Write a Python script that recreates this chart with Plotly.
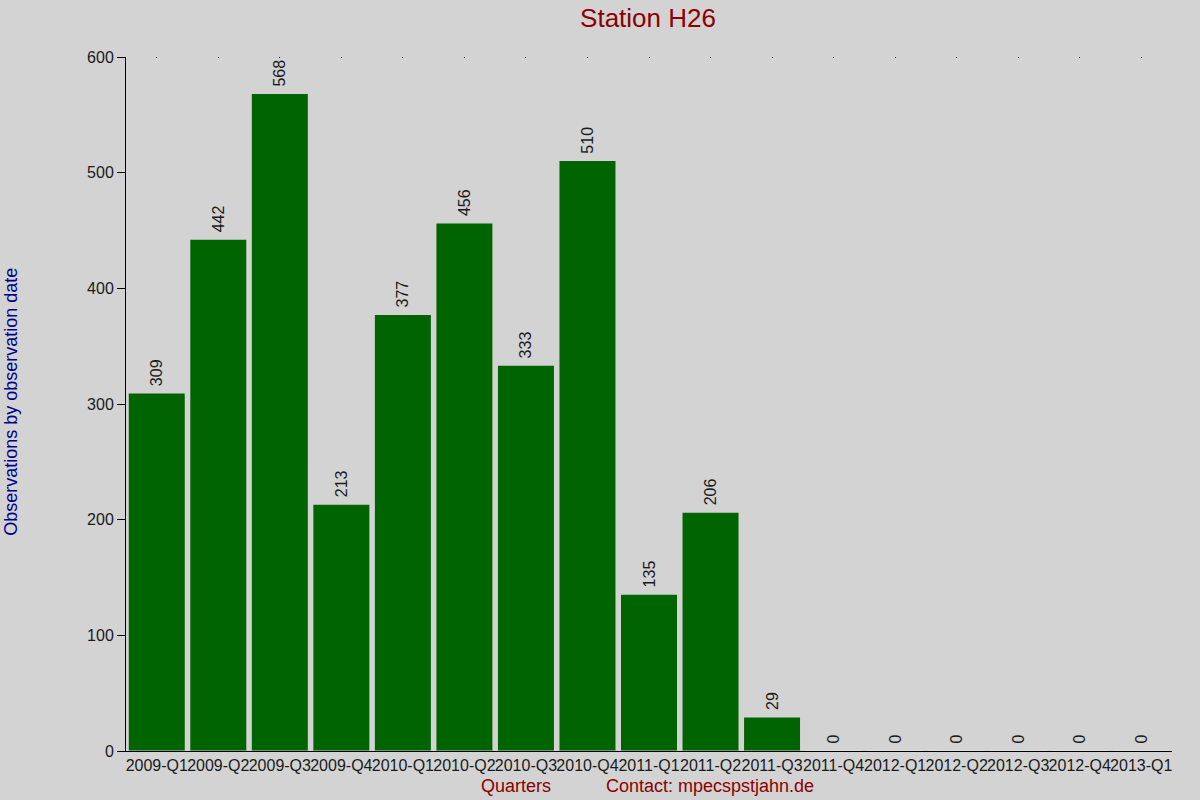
import plotly.graph_objects as go

quarters = [
    "2009-Q1", "2009-Q2", "2009-Q3", "2009-Q4",
    "2010-Q1", "2010-Q2", "2010-Q3", "2010-Q4",
    "2011-Q1", "2011-Q2", "2011-Q3", "2011-Q4",
    "2012-Q1", "2012-Q2", "2012-Q3", "2012-Q4",
    "2013-Q1",
]
observations = [309, 442, 568, 213, 377, 456, 333, 510, 135, 206, 29, 0, 0, 0, 0, 0, 0]
y_ticks = [0, 100, 200, 300, 400, 500, 600]

FONT = "Liberation Sans, Arial, sans-serif"

fig = go.Figure()
fig.add_trace(go.Bar(
    x=quarters,
    y=observations,
    marker=dict(color="#006400", line=dict(width=0)),
    # leading no-break space gives a bit more room between bar top and label
    text=["\u00a0" + str(v) for v in observations],
    textposition="outside",
    textangle=-90,
    constraintext="none",
    cliponaxis=False,
    textfont=dict(family=FONT, size=16, color="#1a1a1a"),
))
# invisible trace on top axis, only for the dotted tick marks along the top
fig.add_trace(go.Bar(x=quarters, y=[0] * len(quarters), xaxis="x2", showlegend=False,
                     marker=dict(color="rgba(0,0,0,0)"), hoverinfo="skip"))

fig.update_layout(
    width=1200, height=800,
    paper_bgcolor="#d3d3d3", plot_bgcolor="#d3d3d3",
    margin=dict(l=126, r=28, t=57, b=49),
    bargap=0.09,
    showlegend=False,
    font=dict(family=FONT, size=16, color="#1a1a1a"),
    title=dict(text="Station H26", x=0.54, xanchor="center", y=0.978, yanchor="middle",
               font=dict(family=FONT, size=26, color="#8b0000")),
    xaxis=dict(
        type="category", range=[-0.5, 16.5], tickangle=0,
        showline=True, linecolor="black", linewidth=1,
        showgrid=False, zeroline=False, ticks="",
        tickfont=dict(size=16, color="#1a1a1a"),
    ),
    xaxis2=dict(
        type="category", range=[-0.5, 16.5], overlaying="x", side="top",
        showline=False, showgrid=False, zeroline=False,
        ticks="inside", ticklen=1, tickwidth=1, tickcolor="black",
        showticklabels=False,
    ),
    yaxis=dict(
        range=[0, 600], tickvals=y_ticks,
        showline=True, linecolor="black", linewidth=1,
        showgrid=False, zeroline=False,
        ticks="outside", ticklen=8, tickcolor="black",
        tickfont=dict(size=16, color="#1a1a1a"),
    ),
    annotations=[
        dict(text="Observations by observation date", textangle=-90,
             xref="paper", yref="paper", x=-0.11, y=0.503, xanchor="center", yanchor="middle",
             showarrow=False, font=dict(family=FONT, size=18, color="#00008b")),
        dict(text="Quarters", xref="paper", yref="paper", x=0.373, y=-0.0504,
             xanchor="center", yanchor="middle", showarrow=False,
             font=dict(family=FONT, size=18, color="#8b0000")),
        dict(text="Contact: mpecspstjahn.de", xref="paper", yref="paper", x=0.558, y=-0.0504,
             xanchor="center", yanchor="middle", showarrow=False,
             font=dict(family=FONT, size=18, color="#8b0000")),
    ],
)

fig.write_html("out.html", config={"displayModeBar": False},
               post_script="document.body.style.margin='0';")
